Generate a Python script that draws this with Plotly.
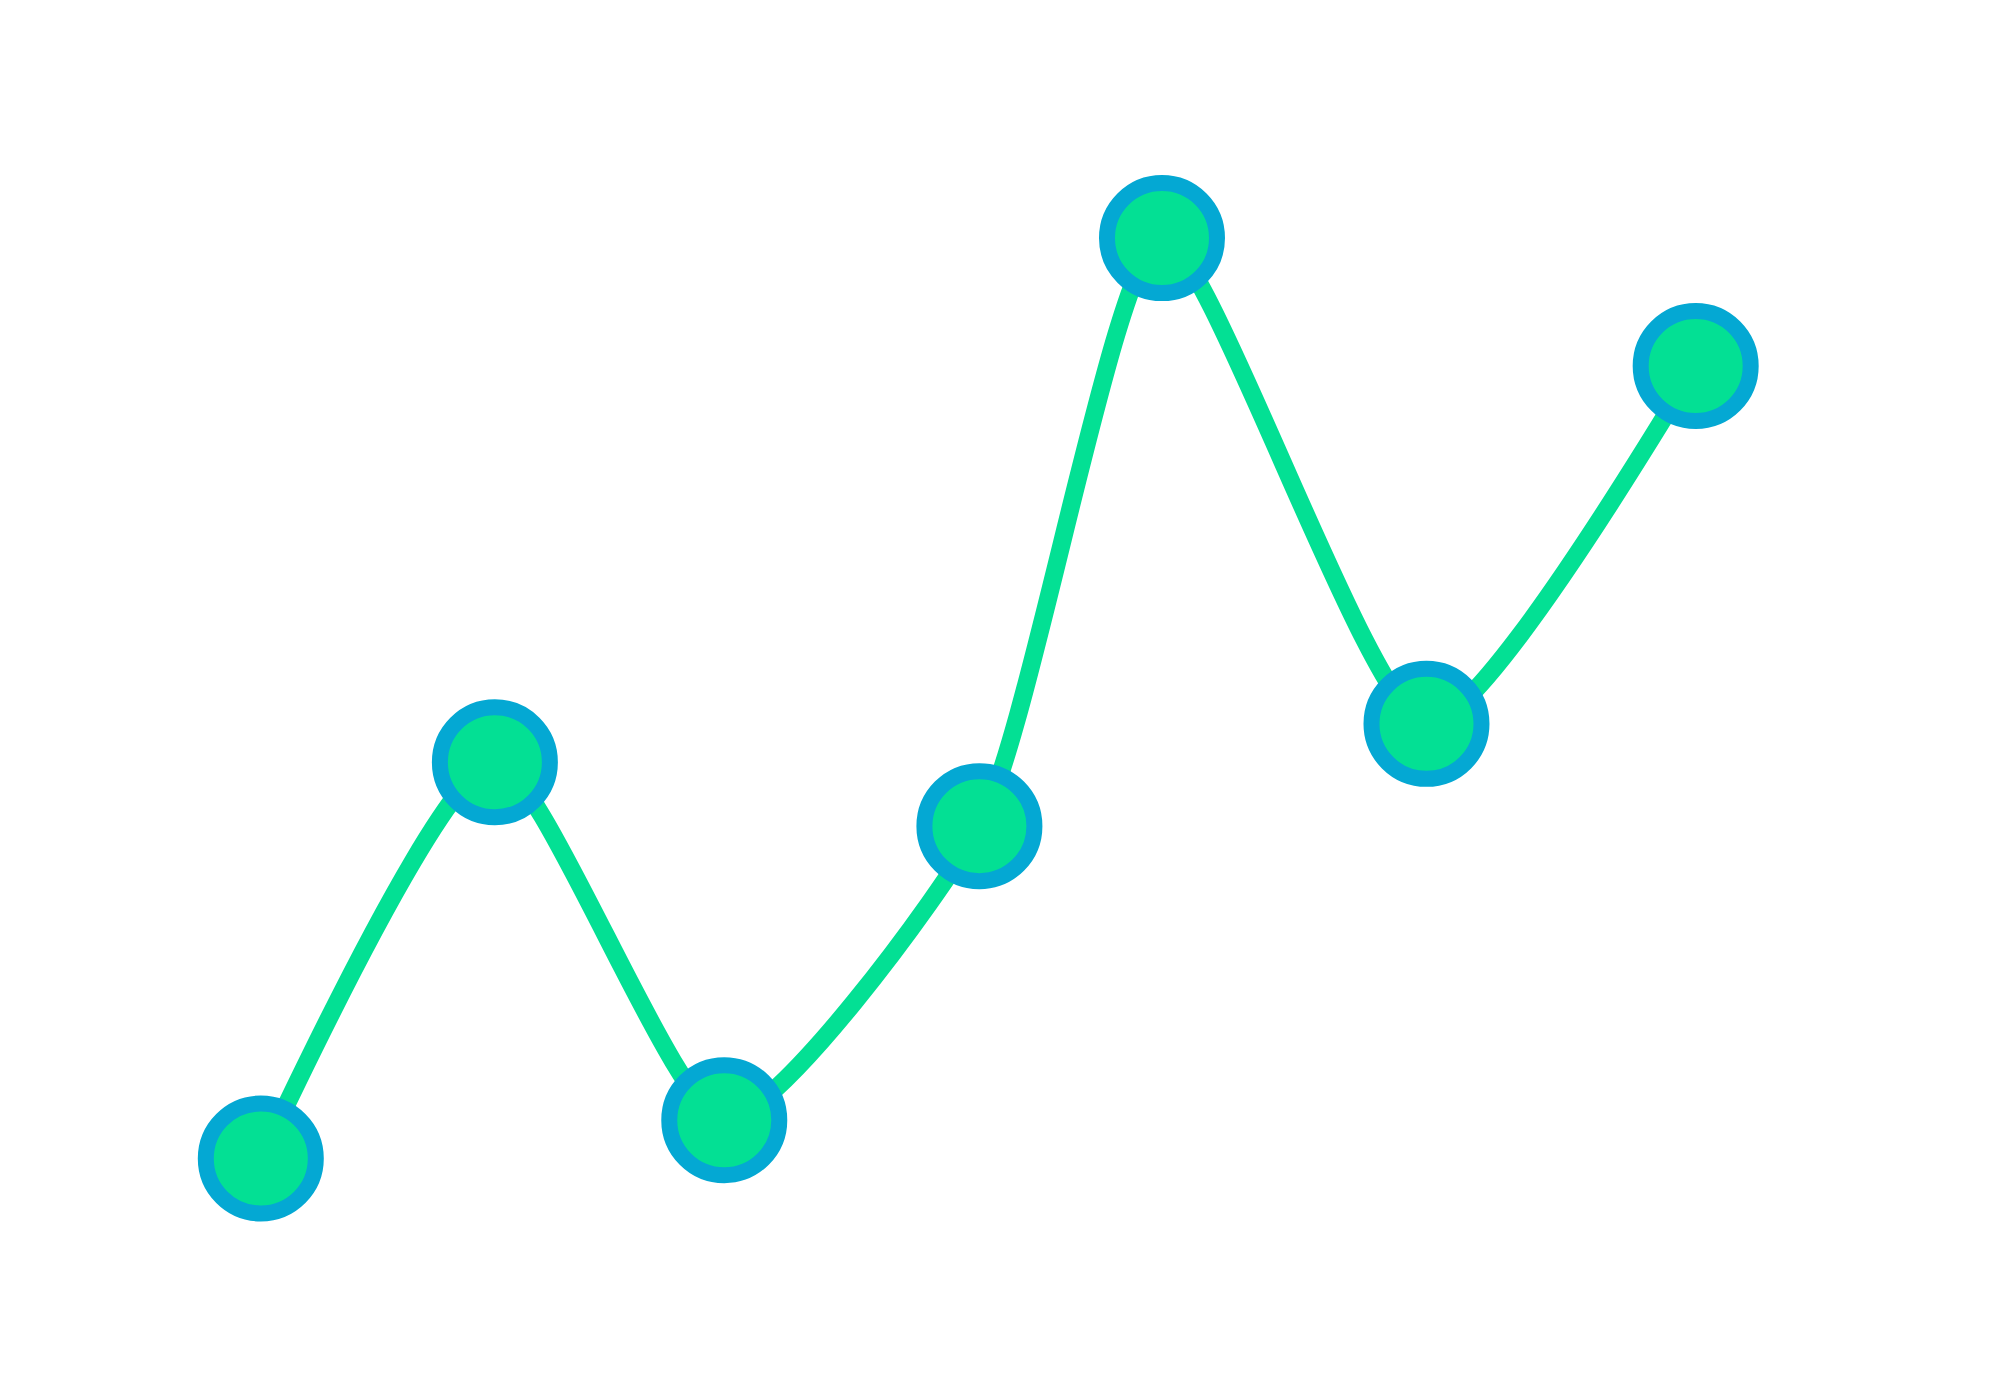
import plotly.graph_objects as go

x_vals = [0, 1.0, 1.98, 3.07, 3.85, 4.98, 6.13]
y_vals = [10, 41, 13, 36, 82, 44, 72]

fig = go.Figure()
fig.add_trace(go.Scatter(
    x=x_vals, y=y_vals, mode='lines+markers',
    line=dict(color='#03E094', width=18, shape='spline', smoothing=0.6),
    marker=dict(size=110, color='#03E094', line=dict(color='#04A8D3', width=16)),
    hoverinfo='skip'))

fig.update_layout(
    width=1999, height=1387,
    margin=dict(l=0, r=0, t=0, b=0),
    plot_bgcolor='white', paper_bgcolor='white',
    showlegend=False,
    xaxis=dict(visible=False, range=[-1.08, 7.46]),
    yaxis=dict(visible=False, range=[-8.5, 100.0]))

fig.write_html("out.html")
